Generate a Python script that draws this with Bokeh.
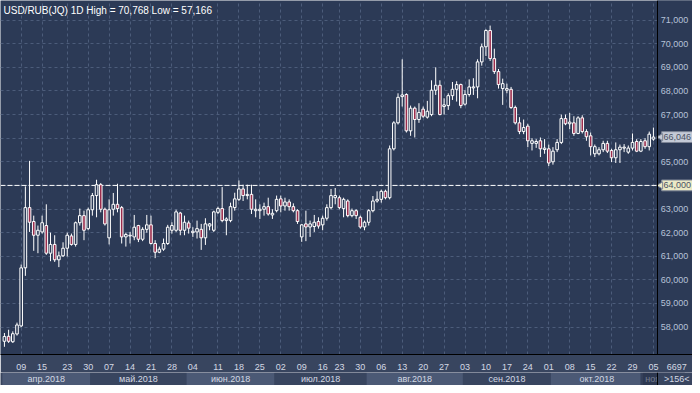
import math
from bokeh.plotting import figure
from bokeh.models import Range1d, FixedTicker, Span, Label, ColumnDataSource
from bokeh.layouts import column
from bokeh.embed import file_html
from bokeh.resources import INLINE
from bokeh.core.properties import value

# ---------------- data (daily OHLC, USD/RUB, Apr-Nov 2018) ----------------
opens = [57.40, 57.61, 57.38, 57.71, 58.05, 60.51, 63.06, 62.47, 61.89, 62.03,
         62.30, 61.13, 61.50, 60.85, 61.02, 61.34, 61.86, 61.50, 62.42, 62.72,
         62.17, 62.97, 63.57, 64.03, 62.99, 61.78, 62.99, 63.20, 63.06, 61.82,
         61.86, 61.82, 62.30, 61.72, 62.14, 62.33, 61.54, 61.17, 61.30, 61.54,
         62.10, 62.10, 62.83, 62.10, 62.41, 62.00, 62.03, 62.14, 61.78, 62.28,
         62.10, 62.86, 63.02, 62.51, 62.51, 63.06, 63.41, 63.85, 63.57, 63.62,
         62.93, 62.93, 62.99, 63.10, 62.75, 62.93, 63.43, 63.13, 63.30, 63.10,
         62.93, 61.82, 62.37, 62.24, 62.26, 62.47, 62.33, 62.61, 63.06, 63.48,
         63.48, 63.02, 63.34, 62.72, 62.93, 62.65, 62.24, 62.44, 62.93, 63.34,
         63.41, 63.75, 63.48, 65.55, 66.65, 67.76, 67.85, 66.31, 67.27, 66.79,
         67.23, 66.89, 67.00, 68.03, 68.24, 67.34, 67.38, 67.80, 68.07, 68.27,
         67.44, 67.85, 68.13, 68.17, 69.23, 69.87, 70.56, 69.37, 68.82, 68.10,
         68.03, 68.07, 67.30, 66.65, 66.28, 66.51, 65.78, 65.78, 65.89, 65.52,
         65.55, 65.00, 65.51, 65.82, 66.83, 66.61, 66.65, 66.20, 66.86, 66.28,
         66.10, 65.34, 65.34, 65.51, 65.78, 65.48, 65.17, 65.51, 65.58, 65.41,
         65.58, 65.86, 65.45, 65.89, 65.64, 65.96]
highs = [57.75, 57.89, 57.82, 58.19, 60.65, 63.96, 65.04, 62.72, 62.30, 62.72,
         63.20, 62.00, 61.89, 61.20, 61.59, 62.00, 61.96, 62.47, 63.02, 62.93,
         63.06, 63.68, 64.24, 64.10, 63.06, 63.41, 63.68, 64.07, 63.13, 62.00,
         62.03, 62.75, 62.33, 62.23, 62.75, 62.72, 61.68, 61.41, 61.75, 62.33,
         62.44, 62.97, 62.88, 62.72, 62.51, 62.23, 62.51, 62.37, 62.61, 62.41,
         62.93, 63.10, 63.93, 62.65, 63.27, 63.69, 64.21, 64.03, 64.03, 64.03,
         63.41, 63.20, 63.27, 63.48, 62.99, 63.57, 63.57, 63.48, 63.41, 63.24,
         62.99, 62.37, 62.93, 62.51, 62.75, 62.65, 62.72, 63.20, 63.85, 63.89,
         63.57, 63.48, 63.41, 63.02, 62.99, 62.72, 62.51, 62.99, 63.55, 63.75,
         63.82, 63.82, 65.69, 66.72, 67.90, 69.34, 67.90, 67.38, 67.34, 67.48,
         67.34, 67.58, 68.45, 69.00, 68.45, 67.69, 67.90, 68.38, 68.41, 68.31,
         68.03, 68.49, 68.54, 69.34, 70.00, 70.61, 70.768, 69.79, 68.93, 68.52,
         68.31, 68.17, 67.38, 66.89, 66.79, 66.61, 66.00, 65.96, 66.03, 65.96,
         65.73, 65.62, 65.96, 67.00, 67.00, 67.07, 66.93, 66.93, 66.97, 66.38,
         66.24, 65.73, 65.62, 65.89, 65.89, 65.55, 65.82, 65.73, 65.75, 65.69,
         66.20, 65.96, 65.96, 66.00, 66.28, 66.45]
lows = [57.166, 57.33, 57.33, 57.64, 58.00, 60.17, 62.03, 61.23, 61.13, 61.96,
        61.06, 60.79, 60.76, 60.54, 60.97, 60.99, 61.45, 61.41, 62.30, 61.68,
        62.10, 62.72, 62.65, 62.86, 62.30, 61.50, 62.72, 62.86, 61.54, 61.41,
        61.54, 61.68, 61.60, 61.64, 62.00, 61.50, 60.92, 61.13, 61.23, 61.48,
        61.96, 62.03, 61.89, 61.89, 61.96, 61.82, 61.75, 61.27, 61.48, 62.10,
        62.03, 62.79, 62.44, 61.89, 62.44, 62.93, 63.34, 63.34, 63.41, 62.79,
        62.65, 62.58, 62.72, 62.72, 62.58, 62.86, 62.86, 62.93, 62.93, 62.86,
        62.37, 61.61, 61.64, 61.82, 62.03, 62.17, 62.10, 62.51, 62.99, 63.20,
        62.99, 62.65, 62.65, 62.65, 62.58, 62.17, 62.10, 62.30, 62.86, 63.27,
        63.27, 63.41, 63.41, 65.48, 66.58, 67.34, 66.24, 66.10, 66.03, 66.65,
        66.86, 66.83, 66.93, 67.83, 66.97, 67.00, 67.20, 67.62, 67.55, 67.27,
        67.38, 67.76, 67.83, 67.69, 69.07, 69.48, 69.27, 68.72, 68.10, 67.41,
        67.90, 67.24, 66.58, 66.17, 66.17, 65.62, 65.48, 65.59, 65.20, 65.34,
        64.82, 64.88, 65.41, 65.75, 66.55, 66.38, 66.10, 66.17, 66.20, 65.89,
        65.27, 65.20, 65.27, 65.41, 65.37, 64.99, 64.95, 64.95, 65.41, 65.34,
        65.48, 65.41, 65.41, 65.55, 65.48, 65.89]
closes = [57.60, 57.40, 57.72, 58.09, 60.51, 63.06, 62.44, 61.89, 62.10, 62.42,
          61.13, 61.50, 60.85, 61.02, 61.34, 61.89, 61.50, 62.42, 62.72, 62.10,
          62.97, 63.57, 64.03, 62.99, 62.37, 62.97, 63.20, 63.02, 61.82, 61.92,
          61.89, 62.23, 61.72, 62.14, 62.33, 61.54, 61.17, 61.30, 61.54, 62.23,
          62.30, 62.88, 62.10, 62.44, 62.19, 62.06, 62.17, 61.78, 62.37, 62.37,
          62.88, 63.02, 62.51, 62.58, 63.10, 63.43, 63.85, 63.57, 63.62, 62.99,
          62.99, 62.99, 63.10, 62.79, 62.82, 63.41, 63.13, 63.30, 63.10, 62.93,
          62.47, 62.33, 62.24, 62.37, 62.44, 62.28, 62.61, 63.06, 63.57, 63.57,
          63.06, 63.41, 62.72, 62.93, 62.72, 62.24, 62.44, 62.93, 63.34, 63.41,
          63.75, 63.48, 65.55, 66.65, 67.73, 67.83, 66.31, 67.27, 66.79, 67.09,
          66.93, 67.14, 68.03, 68.24, 67.00, 67.41, 67.80, 68.07, 68.27, 67.38,
          67.85, 68.17, 68.17, 69.23, 69.87, 70.56, 69.37, 68.82, 68.27, 68.31,
          68.10, 67.30, 66.65, 66.28, 66.45, 65.89, 65.89, 65.86, 65.55, 65.58,
          64.95, 65.45, 65.82, 66.83, 66.61, 66.68, 66.20, 66.86, 66.28, 66.06,
          65.64, 65.64, 65.51, 65.78, 65.45, 65.17, 65.51, 65.62, 65.62, 65.58,
          65.82, 65.45, 65.86, 65.64, 66.17, 66.046]

# weekly tick marks (bar index of the first bar of each week) and their labels
tick_idx = [4, 9, 15, 20, 25, 30, 35, 40, 45, 51, 56, 61, 66, 71, 76, 80,
            85, 90, 95, 100, 105, 110, 115, 120, 125, 130, 135, 140, 145, 150, 155]
tick_labels = ["09", "15", "23", "30", "07", "14", "21", "28", "04", "11", "18",
               "25", "02", "09", "16", "23", "30", "06", "13", "20", "27", "03",
               "10", "17", "24", "01", "08", "15", "22", "29", "05"]

# month strip
month_names = ["апр.2018", "май.2018", "июн.2018", "июл.2018",
               "авг.2018", "сен.2018", "окт.2018", "ноя.2018"]
month_bars = [21, 23, 21, 22, 23, 21, 22, 10]

price_ticks = list(range(58, 72))
level = 64.0
title_text = "USD/RUB(JQ) 1D High = 70,768 Low = 57,166"
corner_value = "6697"

# ---------------- styling ----------------
BG = "#2c3a56"
AXBG = "#38455f"
BAND = "#4b5975"
GRID = "#4c5c7a"
RED = "#9a2c4c"
FONT = "Liberation Sans"
AXTEXT = "#b7c2d8"
DAYTEXT = "#d4d9e4"
FS = "9px"

n = len(opens)
idx = list(range(n))

X0, X1 = -0.94, 164.33          # visible bar-index span (price scale panel included)
SEP = 155.97                     # border between bars and price-scale panel
PANEL_END = 165.2
PANEL_MID = (SEP + PANEL_END) / 2
x_range = Range1d(X0, X1)
y_range = Range1d(56.84, 71.83)

p = figure(width=692, height=372, x_range=x_range, y_range=y_range,
           output_backend="svg", toolbar_location=None, y_axis_location=None,
           min_border_left=0, min_border_right=0, min_border_top=0, min_border_bottom=0,
           background_fill_color=BG, border_fill_color=AXBG, outline_line_color=None)

# bottom (day) axis
xa = p.xaxis[0]
xa.ticker = FixedTicker(ticks=tick_idx + [PANEL_MID])
overrides = {t: l for t, l in zip(tick_idx, tick_labels)}
overrides[PANEL_MID] = corner_value
xa.major_label_overrides = overrides
xa.axis_line_color = "black"
xa.major_tick_line_color = None
xa.minor_tick_line_color = None
xa.major_label_standoff = 3
xa.major_label_text_color = DAYTEXT
xa.major_label_text_font = FONT
xa.major_label_text_font_size = FS

p.xgrid.ticker = FixedTicker(ticks=tick_idx)
p.ygrid.ticker = FixedTicker(ticks=price_ticks)
for g in (p.xgrid, p.ygrid):
    g.grid_line_color = GRID
    g.grid_line_dash = "3 3"
    g.grid_line_width = 1

# price-scale panel background (hides grid there)
p.quad(left=[SEP], right=[X1 + 5], bottom=[y_range.start - 1], top=[y_range.end + 1],
       fill_color=BG, line_color=None)

# reference level line
p.segment(x0=[X0], y0=[level], x1=[SEP], y1=[level], line_color="white",
          line_dash="5 2", line_width=1)

# candles
body_top = [max(o, c) for o, c in zip(opens, closes)]
body_bot = [min(o, c) for o, c in zip(opens, closes)]
fills = [BG if c >= o else RED for o, c in zip(opens, closes)]
src = ColumnDataSource(dict(x=idx, o=opens, h=highs, l=lows, c=closes,
                            top=body_top, bot=body_bot, fill=fills))
p.segment(x0="x", y0="l", x1="x", y1="h", source=src, line_color="white", line_width=1)
p.vbar(x="x", width=0.62, top="top", bottom="bot", source=src,
       fill_color="fill", line_color="white", line_width=1)

# price scale labels
p.text(x=[SEP + 0.75] * len(price_ticks), y=price_ticks,
       text=[f"{v},000" for v in price_ticks], text_align="left", text_baseline="middle",
       text_color=AXTEXT, text_font=value(FONT), text_font_size=value(FS))

# callouts: last close and the reference level
last = closes[-1]
call_vals = [last, level]
call_text = [f"{last:.3f}".replace(".", ","), f"{level:.3f}".replace(".", ",")]
call_fill = ["#c4cad6", "#ebeac6"]
half = 0.23
p.quad(left=[SEP + 1.0] * 2, right=[SEP + 9.4] * 2,
       bottom=[v - half for v in call_vals], top=[v + half for v in call_vals],
       fill_color=call_fill, line_color="#7d8596", line_width=1)
p.scatter(x=[SEP + 0.75] * 2, y=call_vals, marker="triangle", size=7,
          angle=math.pi / 2, fill_color=call_fill, line_color="#7d8596", line_width=1)
p.text(x=[SEP + 1.45] * 2, y=call_vals, text=call_text, text_align="left",
       text_baseline="middle", text_color="#4a5264", text_font=value(FONT),
       text_font_size=value(FS))

p.add_layout(Span(location=SEP, dimension="height", line_color="black", line_width=1))

p.add_layout(Label(x=3, y=y_range.end - 0.18, x_units="screen", y_units="data",
                   text=title_text, text_color="white", text_font=FONT,
                   text_font_size="10px", text_baseline="top", text_align="left"))

# ---------------- month strip ----------------
s = figure(width=692, height=13, x_range=x_range, y_range=Range1d(0, 1),
           output_backend="svg", toolbar_location=None,
           x_axis_location=None, y_axis_location=None,
           min_border_left=0, min_border_right=0, min_border_top=0, min_border_bottom=0,
           background_fill_color=AXBG, border_fill_color=AXBG, outline_line_color=None)
s.grid.visible = False

edges = [-0.5]
for cnt in month_bars:
    edges.append(edges[-1] + cnt)
left = edges[:-1]
right = edges[1:]
centers = [(a + b) / 2 for a, b in zip(left, right)]
band_col = [BAND if i % 2 == 0 else AXBG for i in range(len(month_names))]
s.quad(left=left, right=right, bottom=0, top=1, fill_color=band_col, line_color=None)
s.text(x=centers, y=[0.5] * len(centers), text=month_names, text_align="center",
       text_baseline="middle", text_color=DAYTEXT, text_font=value(FONT),
       text_font_size=value(FS))
s.quad(left=[151.9], right=[SEP], bottom=[0], top=[1], fill_color="#242e45",
       fill_alpha=0.55, line_color=None)
s.quad(left=[SEP], right=[X1 + 5], bottom=[0], top=[1], fill_color=AXBG, line_color=None)
s.text(x=[PANEL_MID], y=[0.5], text=[f">{n}<"], text_align="center",
       text_baseline="middle", text_color=DAYTEXT, text_font=value(FONT),
       text_font_size=value(FS))
s.add_layout(Span(location=SEP, dimension="height", line_color="black", line_width=1))

layout = column(p, s, spacing=0)
open("out.html", "w").write(file_html(layout, INLINE))
